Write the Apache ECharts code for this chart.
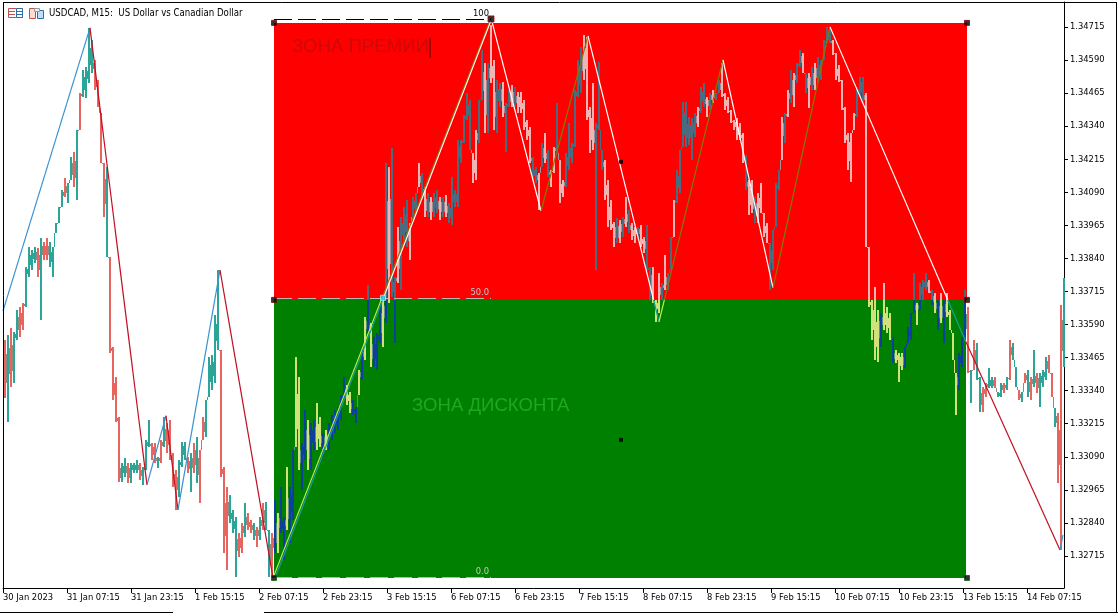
<!DOCTYPE html>
<html>
<head>
<meta charset="utf-8">
<title>USDCAD M15</title>
<style>
html, body { margin: 0; padding: 0; background: #fff; }
#main { width: 1118px; height: 614px; }
</style>
<script src="https://cdn.jsdelivr.net/npm/echarts@6/dist/echarts.min.js"></script>
</head>
<body>
<div id="main"></div>
<script>
// prices are in points (1.34715 = 134715), one bar = 15 min, one sample every 3 bars
var timeLabels = ['30 Jan 2023', '31 Jan 07:15', '31 Jan 23:15', '1 Feb 15:15', '2 Feb 07:15', '2 Feb 23:15',
    '3 Feb 15:15', '6 Feb 07:15', '6 Feb 23:15', '7 Feb 15:15', '8 Feb 07:15', '8 Feb 23:15', '9 Feb 15:15',
    '10 Feb 07:15', '10 Feb 23:15', '13 Feb 15:15', '14 Feb 07:15'];
var timeTicks = [0, 64, 128, 192, 256, 320, 384, 448, 512, 576, 640, 704, 768, 832, 896, 960, 1024];
var priceTicks = [132715, 132840, 132965, 133090, 133215, 133340, 133465, 133590, 133715, 133840,
    133965, 134090, 134215, 134340, 134465, 134590, 134715];

var highs = [
    133532,133551,133577,133562,133645,133657,133672,133808,133883,133872,
    133883,133880,133917,133902,133917,133902,133883,133974,134035,134099,
    134144,134125,134224,134242,134326,134465,134552,134564,134711,134666,
    134590,134515,134390,134201,134186,133846,133505,133392,133241,133067,
    133086,133067,133067,133067,133078,133067,133052,133154,133229,133142,
    133142,133090,133154,133241,133218,133229,133105,133040,133078,133146,
    133146,133090,133105,133142,133165,133116,133241,133305,133468,133475,
    133626,133796,133494,133052,132976,132946,132889,132863,132802,132840,
    132916,132878,132851,132840,132825,132863,132916,132919,132814,132802,
    132927,132878,132976,132863,133052,132976,133116,133468,133392,133142,
    133267,133229,133218,133229,133294,133241,133180,133192,133218,133248,
    133267,133279,133324,133392,133362,133335,133305,133279,133418,133494,
    133619,133740,133596,133543,133558,133672,133683,134201,134186,134258,
    133770,133959,133997,134035,134061,133974,134072,134087,134201,134163,
    134110,134087,134072,134087,134099,134072,134072,134080,134050,134148,
    134099,134288,134288,134382,134465,134439,134239,134326,134439,134628,
    134579,134579,134722,134590,134515,134503,134507,134428,134477,134496,
    134488,134469,134469,134439,134363,134337,134224,134186,134163,134276,
    134314,134250,134174,134261,134428,134212,134137,134239,134352,134276,
    134477,134590,134639,134685,134677,134413,134503,134352,134583,134250,
    134212,134137,134061,133978,133993,133985,133997,134072,134023,133974,
    133959,133959,133966,133921,133966,133808,133808,133683,133785,133747,
    133853,133785,133921,134061,134174,134250,134431,134431,134375,134371,
    134390,134413,134488,134503,134450,134465,134477,134465,134515,134579,
    134465,134450,134401,134363,134371,134352,134314,134231,134137,134137,
    134072,134087,134125,134012,133974,133898,133948,134125,134174,134375,
    134390,134477,134552,134541,134579,134628,134617,134541,134541,134564,
    134579,134602,134590,134666,134715,134711,134666,134617,134571,134515,
    134413,134314,134314,134390,134488,134526,134526,134465,133883,133683,
    133732,133645,133634,133747,133657,133634,133543,133494,133483,133483,
    133505,133581,133634,133785,133672,133747,133759,133785,133759,133721,
    133709,133683,133709,133683,133709,133645,133558,133407,133483,133543,
    133721,133657,133418,133532,133520,133392,133354,133369,133426,133392,
    133392,133335,133369,133369,133392,133532,133520,133430,133343,133335,
    133407,133418,133392,133494,133407,133407,133418,133468,133475,133407,
    133275,133256,133664,133766
];
var lows = [
    133313,133222,133354,133369,133532,133543,133570,133657,133770,133796,
    133823,133770,133607,133834,133834,133808,133770,133936,133974,134035,
    134072,134050,134137,134110,134061,134326,134450,134447,134503,134541,
    134477,134413,134201,133997,133846,133483,133305,133222,132995,132995,
    133014,132991,132991,133029,133029,133003,132984,133040,133127,133078,
    133067,133048,133067,133127,133105,133078,132976,132889,132938,133052,
    133078,133029,132957,133029,132991,132916,133154,133165,133316,133343,
    133369,133494,133014,132727,132662,132840,132802,132636,132712,132727,
    132787,132814,132802,132776,132749,132776,132814,132814,132636,132636,
    132727,132727,132802,132700,132814,132764,132851,133127,133040,132965,
    133078,133040,133040,133116,133116,133127,133090,133116,133116,133154,
    133180,133192,133229,133305,133286,133256,133248,133218,133324,133381,
    133456,133558,133430,133430,133418,133520,133505,133596,133672,133694,
    133520,133747,133721,133910,133883,133834,133997,134012,134110,134072,
    133997,133997,133985,133997,134012,133985,133997,133997,133974,133966,
    134035,134035,134201,134276,134363,134250,134125,134137,134276,134439,
    134314,134314,134503,134326,134314,134413,134375,134242,134413,134413,
    134413,134390,134390,134326,134288,134201,134137,134125,134023,134186,
    134201,134148,134110,134163,134239,134050,134072,134110,134174,134201,
    134261,134450,134465,134515,134363,134239,134250,133796,134326,134174,
    134061,133959,133948,133883,133898,133898,133921,133959,133936,133910,
    133898,133921,133883,133861,133796,133683,133672,133600,133634,133683,
    133721,133721,133796,133921,134050,134087,134261,134261,134269,134212,
    134299,134337,134390,134413,134375,134401,134428,134439,134465,134450,
    134401,134390,134352,134326,134288,134288,134201,134099,134004,134012,
    133974,133974,134012,133921,133898,133721,133796,133959,134099,134212,
    134276,134375,134428,134413,134503,134564,134541,134465,134409,134477,
    134477,134503,134515,134590,134654,134654,134609,134515,134507,134401,
    134276,134174,134129,134326,134375,134450,134428,133883,133657,133532,
    133456,133449,133505,133570,133558,133532,133445,133445,133373,133418,
    133426,133520,133532,133634,133588,133645,133683,133721,133709,133664,
    133634,133570,133596,133520,133619,133570,133456,133248,133343,133430,
    133543,133407,133294,133418,133381,133260,133260,133316,133350,133350,
    133350,133316,133316,133331,133343,133381,133456,133354,133305,133297,
    133369,133316,133305,133354,133331,133279,133354,133381,133407,133316,
    133203,132991,132738,133430
];
// 1 = bullish bar, 0 = bearish bar
var barDirs = '0101100111' + '1010011111' + '0110101111' + '0000100001' + '1011101110' +
    '0101000011' + '1010100111' + '1100011100' + '1001010110' + '1011011001' +
    '1011001011' + '1111001101' + '0101110101' + '1011101101' + '0101101011' +
    '1111110011' + '0100110110' + '1000001101' + '0100100111' + '1110000111' +
    '0000101010' + '0100110001' + '0110111111' + '1011010110' + '0000000100' +
    '1000011110' + '1010110101' + '0111110000' + '0000111000' + '0010001000' +
    '1111011101' + '0101000011' + '1010110011' + '0110101101' + '0101011100' + '1001';

// zigzag turning points
var zigBars = [0, 87, 144, 163, 175, 217, 270, 488, 538, 585, 656, 720, 770, 827, 962, 1057, 1060];
var zigPrices = [133641, 134711, 132984, 133245, 132889, 133796, 132632, 134749, 134019, 134681,
    133600, 134590, 133728, 134715, 133532, 132738, 132795];
// rectangle diagonal
var diagBars = [272, 489];
var diagPrices = [132632, 134749];

// premium / discount box
var boxBars = [271, 963];
var boxTop = 134730;
var boxMid = 133683;
var boxBottom = 132632;

// fibo levels
var fibBars = [271, 488];
var fibPrices = [134745, 133691, 132636];
var fibNames = ['100', '50.0', '0.0'];

var handleBars = [271, 964, 271, 964, 271, 964, 488, 618, 618, 380];
var handlePrices = [134730, 134730, 133683, 133683, 132632, 132632, 134745, 134205, 133154, 133691];

var myChart = echarts.init(document.getElementById('main'));

function zoneAt(bar, price) {
    if (bar < boxBars[0] || bar > boxBars[1] || price > boxTop || price < boxBottom) return 'out';
    return price > boxMid ? 'red' : 'green';
}

var barColors = {
    out:   ['#e8645f', '#2ba597'],
    red:   ['#efb4b4', '#4a6c80'],
    green: ['#d2e27a', '#0c409c']
};
// colour of the column between two bars of different direction
var blendColors = { out: '#8f8a7e', red: '#a08f9c', green: '#5f8f8a' };
var zigColors = {
    out:   ['#c20f22', '#3a92d2'],
    red:   ['#ffffff', '#7e7a08'],
    green: ['#139f9f', '#c4ee4e']
};
var diagColors = { out: '#ffffff', red: '#ffffff', green: '#139f9f' };

// one column of pixels for a price range, cut at the middle of the box
function columnRects(api, bar, hi, lo, px, width, colorOf) {
    var parts = [[hi, lo]];
    if (bar >= boxBars[0] && bar <= boxBars[1] && hi > boxMid && lo < boxMid) {
        parts = [[hi, boxMid], [boxMid, lo]];
    }
    return parts.map(function (p) {
        var a = api.coord([bar, p[0]]);
        var b = api.coord([bar, p[1]]);
        return {
            type: 'rect',
            shape: { x: px, y: Math.round(a[1]), width: width, height: Math.max(1, Math.round(b[1] - a[1])) },
            style: { fill: colorOf(zoneAt(bar, (p[0] + p[1]) / 2)) }
        };
    });
}

function renderBar(params, api) {
    var i = params.dataIndex;
    var bar = api.value(0), hi = api.value(1), lo = api.value(2), up = api.value(3);
    var px = Math.round(api.coord([bar, hi])[0]) - 1;
    var children = columnRects(api, bar, hi, lo, px, 2, function (z) { return barColors[z][up]; });
    if (i < highs.length - 1) {
        // the sampled bars hide the ones in between: bridge gaps, and join overlaps by their middle half
        var nHi = highs[i + 1], nLo = lows[i + 1], nUp = barDirs.charAt(i + 1) === '1' ? 1 : 0;
        var top = Math.min(hi, nHi), bot = Math.max(lo, nLo);
        if (top < bot) {
            var t = top; top = bot; bot = t;
        } else {
            var q = (top - bot) / 4;
            top -= q;
            bot += q;
        }
        children = children.concat(columnRects(api, bar, top, bot, px + 2, 1, function (z) {
            return nUp === up ? barColors[z][up] : blendColors[z];
        }));
    }
    return { type: 'group', children: children };
}

// one segment, cut where it crosses the box edges so each piece takes its zone colour
function splitSegment(x0, p0, x1, p1) {
    var cuts = [0, 1];
    [boxBars[0], boxBars[1]].forEach(function (bx) {
        if ((x0 - bx) * (x1 - bx) < 0) cuts.push((bx - x0) / (x1 - x0));
    });
    [boxTop, boxMid, boxBottom].forEach(function (py) {
        if ((p0 - py) * (p1 - py) < 0) cuts.push((py - p0) / (p1 - p0));
    });
    cuts.sort(function (a, b) { return a - b; });
    var pieces = [];
    for (var i = 0; i < cuts.length - 1; i++) {
        var a = cuts[i], b = cuts[i + 1], m = (a + b) / 2;
        pieces.push({
            from: [x0 + (x1 - x0) * a, p0 + (p1 - p0) * a],
            to: [x0 + (x1 - x0) * b, p0 + (p1 - p0) * b],
            zone: zoneAt(x0 + (x1 - x0) * m, p0 + (p1 - p0) * m)
        });
    }
    return pieces;
}

function segmentGroup(api, x0, p0, x1, p1, colorOf) {
    return {
        type: 'group',
        children: splitSegment(x0, p0, x1, p1).map(function (s) {
            var a = api.coord(s.from), b = api.coord(s.to);
            return {
                type: 'line',
                shape: { x1: a[0], y1: a[1], x2: b[0], y2: b[1] },
                style: { stroke: colorOf(s.zone), lineWidth: 1.2 }
            };
        })
    };
}

function renderZig(params, api) {
    var p0 = api.value(1), p1 = api.value(3);
    var dir = p1 > p0 ? 1 : 0;
    return segmentGroup(api, api.value(0), p0, api.value(2), p1, function (z) { return zigColors[z][dir]; });
}

function renderDiag(params, api) {
    return segmentGroup(api, api.value(0), api.value(1), api.value(2), api.value(3), function (z) { return diagColors[z]; });
}

function renderFib(params, api) {
    var i = params.dataIndex;
    var a = api.coord([fibBars[0], api.value(0)]);
    var b = api.coord([fibBars[1], api.value(0)]);
    var color = i === 0 ? '#000' : '#bdb5ad';
    var y = Math.round(a[1]) + 0.5;
    return {
        type: 'group',
        children: [{
            type: 'line',
            shape: { x1: a[0], y1: y, x2: b[0], y2: y },
            style: { stroke: color, lineWidth: 1, lineDash: [18, 6] }
        }, {
            type: 'text',
            x: b[0] - 2,
            y: y - 1,
            style: { text: fibNames[i], fill: i === 0 ? '#000' : '#c4c4c4', font: '9.3px ' + labelFont, align: 'right', verticalAlign: 'bottom' }
        }]
    };
}

var barData = highs.map(function (h, i) {
    return [2 + i * 3, h, lows[i], Number(barDirs.charAt(i))];
});
var zigData = [];
for (var i = 0; i < zigBars.length - 1; i++) {
    zigData.push([zigBars[i], zigPrices[i], zigBars[i + 1], zigPrices[i + 1]]);
}
var handleData = handleBars.map(function (b, i) { return [b, handlePrices[i]]; });
var handleStyles = [
    ['#000', '#7a0000', 5], ['#000', '#7a0000', 5], ['#000', '#7a0000', 5], ['#000', '#7a0000', 5],
    ['#000', '#0a5a0a', 5], ['#000', '#0a5a0a', 5], ['#000', '#a01010', 6], ['#000', '#000', 3], ['#000', '#000', 3],
    ['#20d0e8', '#a0f0ff', 5]
];
var labelFont = '"DejaVu Sans Condensed", "Liberation Sans", Arial, sans-serif';

var option = {
    animation: false,
    backgroundColor: '#fff',
    textStyle: { fontFamily: labelFont },
    grid: { left: 3, right: 54, top: 2, bottom: 26 },
    xAxis: {
        type: 'value',
        min: 0,
        max: 1061,
        splitLine: { show: false },
        axisLine: { onZero: false, lineStyle: { color: '#000' } },
        axisTick: { length: 5, lineStyle: { color: '#000' }, customValues: timeTicks },
        axisLabel: {
            customValues: timeTicks,
            color: '#000',
            fontFamily: labelFont,
            fontSize: 9.3,
            align: 'left',
            margin: 5,
            hideOverlap: false,
            formatter: function (v) { return timeLabels[timeTicks.indexOf(v)]; }
        }
    },
    yAxis: {
        type: 'value',
        position: 'right',
        min: 132594,
        max: 134809,
        splitLine: { show: false },
        axisLine: { show: true, onZero: false, lineStyle: { color: '#000' } },
        axisTick: { show: true, length: 4, lineStyle: { color: '#000' }, customValues: priceTicks },
        axisLabel: {
            customValues: priceTicks,
            color: '#000',
            fontFamily: labelFont,
            fontSize: 9.3,
            margin: 6,
            formatter: function (v) { return (v / 100000).toFixed(5); }
        }
    },
    graphic: [
        // window frame
        { type: 'line', z: 20, shape: { x1: 3.5, y1: 2.5, x2: 3.5, y2: 588 }, style: { stroke: '#000' } },
        { type: 'line', z: 20, shape: { x1: 3, y1: 2.5, x2: 1116, y2: 2.5 }, style: { stroke: '#000' } },
        { type: 'line', z: 20, shape: { x1: 1116.5, y1: 2, x2: 1116.5, y2: 612 }, style: { stroke: '#000' } },
        { type: 'line', z: 20, shape: { x1: 0, y1: 612.5, x2: 173, y2: 612.5 }, style: { stroke: '#000' } },
        { type: 'line', z: 20, shape: { x1: 264, y1: 612.5, x2: 1118, y2: 612.5 }, style: { stroke: '#000' } },
        // title and its two toolbar icons
        { type: 'rect', z: 20, shape: { x: 8.5, y: 8.5, width: 14, height: 9 }, style: { fill: '#fff', stroke: '#c0504d' } },
        { type: 'rect', z: 20, shape: { x: 16.5, y: 8.5, width: 6, height: 9 }, style: { fill: '#fff', stroke: '#2f6fa8' } },
        { type: 'line', z: 20, shape: { x1: 9, y1: 11.5, x2: 15, y2: 11.5 }, style: { stroke: '#c0504d' } },
        { type: 'line', z: 20, shape: { x1: 9, y1: 14.5, x2: 15, y2: 14.5 }, style: { stroke: '#c0504d' } },
        { type: 'line', z: 20, shape: { x1: 17, y1: 11.5, x2: 22, y2: 11.5 }, style: { stroke: '#2f6fa8' } },
        { type: 'line', z: 20, shape: { x1: 17, y1: 14.5, x2: 22, y2: 14.5 }, style: { stroke: '#2f6fa8' } },
        { type: 'rect', z: 20, shape: { x: 29.5, y: 8.5, width: 6, height: 10 }, style: { fill: '#f8dcd8', stroke: '#c0504d' } },
        { type: 'rect', z: 20, shape: { x: 37.5, y: 10.5, width: 6, height: 8 }, style: { fill: '#bfe0f4', stroke: '#2f6fa8' } },
        { type: 'rect', z: 20, shape: { x: 34.5, y: 8.5, width: 5, height: 3 }, style: { fill: '#eee', stroke: '#999' } },
        {
            type: 'text', z: 20, x: 49, y: 13,
            style: { text: 'USDCAD, M15:  US Dollar vs Canadian Dollar', fill: '#000', font: '9.6px ' + labelFont, verticalAlign: 'middle' }
        },
        // zone captions
        {
            type: 'text', z: 20, x: 292, y: 47,
            style: { text: 'ЗОНА ПРЕМИИ', fill: '#cc0808', font: '18.6px "Liberation Sans"', verticalAlign: 'middle' }
        },
        { type: 'rect', z: 20, shape: { x: 429, y: 38, width: 2, height: 20 }, style: { fill: '#a00808' } },
        {
            type: 'text', z: 20, x: 412, y: 406,
            style: { text: 'ЗОНА ДИСКОНТА', fill: '#1ea81e', font: '18.6px "Liberation Sans"', verticalAlign: 'middle' }
        }
    ],
    series: [
        {
            // box zones
            type: 'line',
            data: [],
            z: 1,
            silent: true,
            markArea: {
                silent: true,
                data: [
                    [{ xAxis: boxBars[0], yAxis: boxTop, itemStyle: { color: '#ff0000', opacity: 1 } }, { xAxis: boxBars[1] + 1, yAxis: boxMid }],
                    [{ xAxis: boxBars[0], yAxis: boxMid, itemStyle: { color: '#008000', opacity: 1 } }, { xAxis: boxBars[1], yAxis: boxBottom }]
                ]
            }
        },
        { type: 'custom', z: 2, silent: true, renderItem: renderBar, data: barData, encode: { x: 0, y: [1, 2] } },
        { type: 'custom', z: 3, silent: true, renderItem: renderZig, data: zigData, encode: { x: [0, 2], y: [1, 3] } },
        {
            type: 'custom', z: 3, silent: true, renderItem: renderDiag,
            data: [[diagBars[0], diagPrices[0], diagBars[1], diagPrices[1]]],
            encode: { x: [0, 2], y: [1, 3] }
        },
        { type: 'custom', z: 4, silent: true, renderItem: renderFib, data: fibPrices.map(function (p) { return [p]; }), clip: false },
        {
            type: 'scatter', z: 5, silent: true,
            symbol: 'rect',
            symbolSize: function (v, p) { return handleStyles[p.dataIndex][2]; },
            itemStyle: {
                color: function (p) { return handleStyles[p.dataIndex][0]; },
                borderColor: '#7a0000',
                borderWidth: 1
            },
            data: handleData.map(function (d, i) {
                return { value: d, itemStyle: { borderColor: handleStyles[i][1] } };
            })
        }
    ]
};
myChart.setOption(option);
</script>
</body>
</html>
